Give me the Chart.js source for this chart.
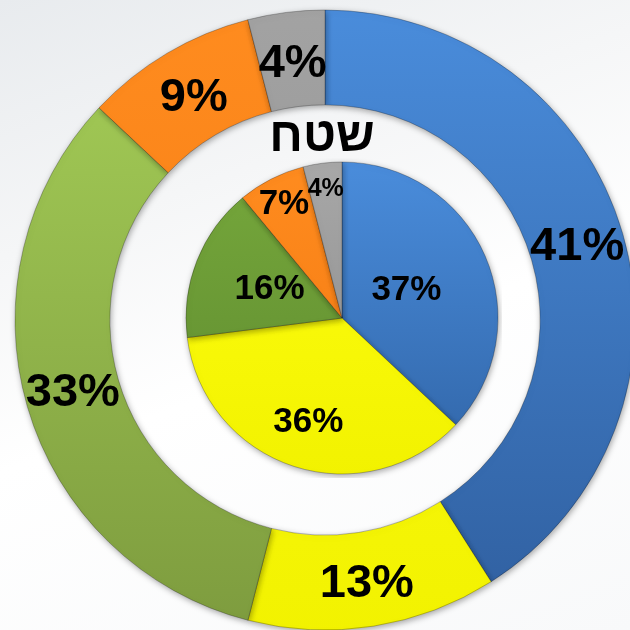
<!DOCTYPE html>
<html><head><meta charset="utf-8">
<script src="https://cdn.jsdelivr.net/npm/chart.js@4"></script>
<style>
html,body{margin:0;padding:0;width:630px;height:630px;overflow:hidden;}
body{background:linear-gradient(160deg,#e8ebee 0%,#f5f6f7 30%,#ffffff 55%,#f8f9fa 100%);position:relative;font-family:"Liberation Sans",Arial,sans-serif;}
#ring{position:absolute;left:0;top:0;}
#pie{position:absolute;left:182px;top:158px;}
#title{position:absolute;left:0;width:644px;top:111px;text-align:center;font-weight:bold;font-size:48px;line-height:48px;direction:rtl;color:#000;}
</style></head><body>
<canvas id="ring" width="650" height="640"></canvas>
<canvas id="pie" width="320" height="320"></canvas>
<div id="title">שטח</div>
<script>
const categories = ['קטגוריה 1','קטגוריה 2','קטגוריה 3','קטגוריה 4','קטגוריה 5'];
const outerValues = [41, 13, 33, 9, 4];
const innerValues = [37, 36, 16, 7, 4];
const titleText = 'שטח';

const outerColors = [['#4A8DDC','#2F5E9E'],['#FFFF1A','#F2F200'],['#A6CF58','#7D9B3E'],['#FF8C1F','#F27810'],['#A3A3A3','#8A8A8A']];
const innerColors = [['#4A8DDC','#3064A6'],['#FFFF10','#F2F200'],['#76A83C','#5E8A2E'],['#FF8C1F','#F27810'],['#A8A8A8','#888888']];

function gradFill(colors){
  return (c)=>{
    const pair=colors[c.dataIndex] || colors[0];
    const ch=c.chart, a=ch.chartArea;
    if(!a) return pair[0];
    const g=ch.ctx.createLinearGradient(0,a.top,0,a.bottom);
    g.addColorStop(0,pair[0]); g.addColorStop(1,pair[1]);
    return g;
  };
}

const shadowPlugin = {
  id:'sliceShadow',
  beforeDatasetsDraw(chart){ const c=chart.ctx; c.save(); c.shadowColor='rgba(0,0,0,0.35)'; c.shadowBlur=6; c.shadowOffsetX=1; c.shadowOffsetY=2; },
  afterDatasetsDraw(chart){ chart.ctx.restore(); }
};

function labelPlugin(radial, sizes){
  return {
    id:'sliceLabels',
    afterDatasetsDraw(chart){
      const ctx=chart.ctx;
      const meta=chart.getDatasetMeta(0);
      const data=chart.data.datasets[0].data;
      ctx.save();
      ctx.fillStyle='#000';
      ctx.textAlign='center'; ctx.textBaseline='middle';
      meta.data.forEach((arc,i)=>{
        const p=arc.getProps(['x','y','startAngle','endAngle','innerRadius','outerRadius'],true);
        const mid=(p.startAngle+p.endAngle)/2;
        const r=p.innerRadius+(p.outerRadius-p.innerRadius)*radial[i];
        ctx.font='bold '+sizes[i]+'px "Liberation Sans", Arial, sans-serif';
        ctx.fillText(data[i]+'%', p.x+Math.cos(mid)*r, p.y+Math.sin(mid)*r);
      });
      ctx.restore();
    }
  };
}

const baseOpts = {
  responsive:false, animation:false, events:[],
  layout:{padding:0},
  plugins:{legend:{display:false},tooltip:{enabled:false},title:{display:false}}
};

new Chart(document.getElementById('ring'),{
  type:'doughnut',
  data:{labels:categories,datasets:[{
    data:outerValues,
    backgroundColor:gradFill(outerColors),
    borderColor:'rgba(0,0,0,0.25)', borderWidth:1, hoverOffset:0
  }]},
  options:Object.assign({},baseOpts,{radius:310,cutout:'69.4%',rotation:0}),
  plugins:[shadowPlugin,labelPlugin([0.5,0.55,0.5,0.45,0.45],[47,47,47,47,47])]
});

new Chart(document.getElementById('pie'),{
  type:'pie',
  data:{labels:categories,datasets:[{
    data:innerValues,
    backgroundColor:gradFill(innerColors),
    borderColor:'rgba(0,0,0,0.25)', borderWidth:1, hoverOffset:0
  }]},
  options:Object.assign({},baseOpts,{radius:156,rotation:0}),
  plugins:[shadowPlugin,labelPlugin([0.45,0.7,0.5,0.82,0.83],[35,35,35,35,25])]
});
document.getElementById('title').textContent=titleText;
</script>
</body></html>
